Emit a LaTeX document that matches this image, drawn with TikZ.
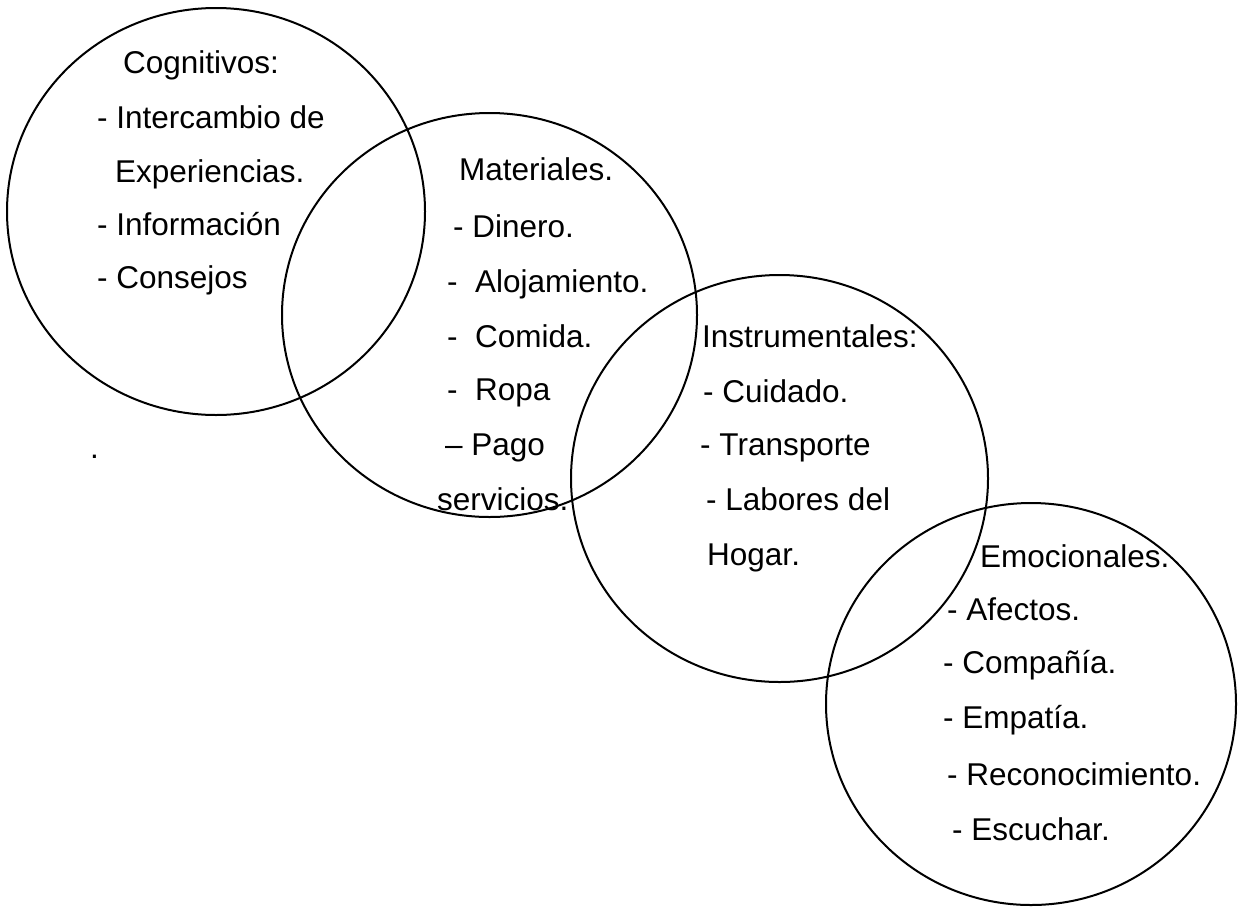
\documentclass[tikz,border=0pt]{standalone}
\usepackage{fontspec}
\setmainfont{Liberation Sans}
\begin{document}
\begin{tikzpicture}[x=1pt,y=-1pt,
  ring/.style={draw=black, line width=2pt},
  lbl/.style={anchor=base west, inner sep=0pt, font=\fontsize{31.5}{31.5}\selectfont}]
\useasboundingbox (0,0) rectangle (1238,908);
% circles
\draw[ring] (216,211.5) ellipse [x radius=209, y radius=203.5];
\draw[ring] (489.5,315) ellipse [x radius=207.5, y radius=202];
\draw[ring] (779.5,478.5) ellipse [x radius=208.5, y radius=203.5];
\draw[ring] (1031,704) ellipse [x radius=205, y radius=201];
% circle 1 text
\node[lbl] (c1a) at (123,73) {Cognitivos:};
\node[lbl] (c1b) at (97,128) {- Intercambio de};
\node[lbl] (c1c) at (115,182) {Experiencias.};
\node[lbl] (c1d) at (97,235) {- Información};
\node[lbl] (c1e) at (97,288) {- Consejos};
\node[lbl] (dot) at (90,458) {.};
% circle 2 text
\node[lbl] (c2a) at (459,180) {Materiales.};
\node[lbl] (c2b) at (453,237) {- Dinero.};
\node[lbl] (c2c) at (447,292) {-~~Alojamiento.};
\node[lbl] (c2d) at (447,347) {-~~Comida.};
\node[lbl] (c2e) at (447,400) {-~~Ropa};
\node[lbl] (c2f) at (445,455) {– Pago};
\node[lbl] (c2g) at (437,510) {servicios.};
% circle 3 text
\node[lbl] (c3a) at (702,347) {Instrumentales:};
\node[lbl] (c3b) at (703,402) {- Cuidado.};
\node[lbl] (c3c) at (700,455) {- Transporte};
\node[lbl] (c3d) at (706,510) {- Labores del};
\node[lbl] (c3e) at (707,565) {Hogar.};
% circle 4 text
\node[lbl] (c4a) at (980,567) {Emocionales.};
\node[lbl] (c4b) at (947,620) {- Afectos.};
\node[lbl] (c4c) at (943,673) {- Compañía.};
\node[lbl] (c4d) at (943,728) {- Empatía.};
\node[lbl] (c4e) at (947,785) {- Reconocimiento.};
\node[lbl] (c4f) at (952,840) {- Escuchar.};
\end{tikzpicture}
\end{document}
